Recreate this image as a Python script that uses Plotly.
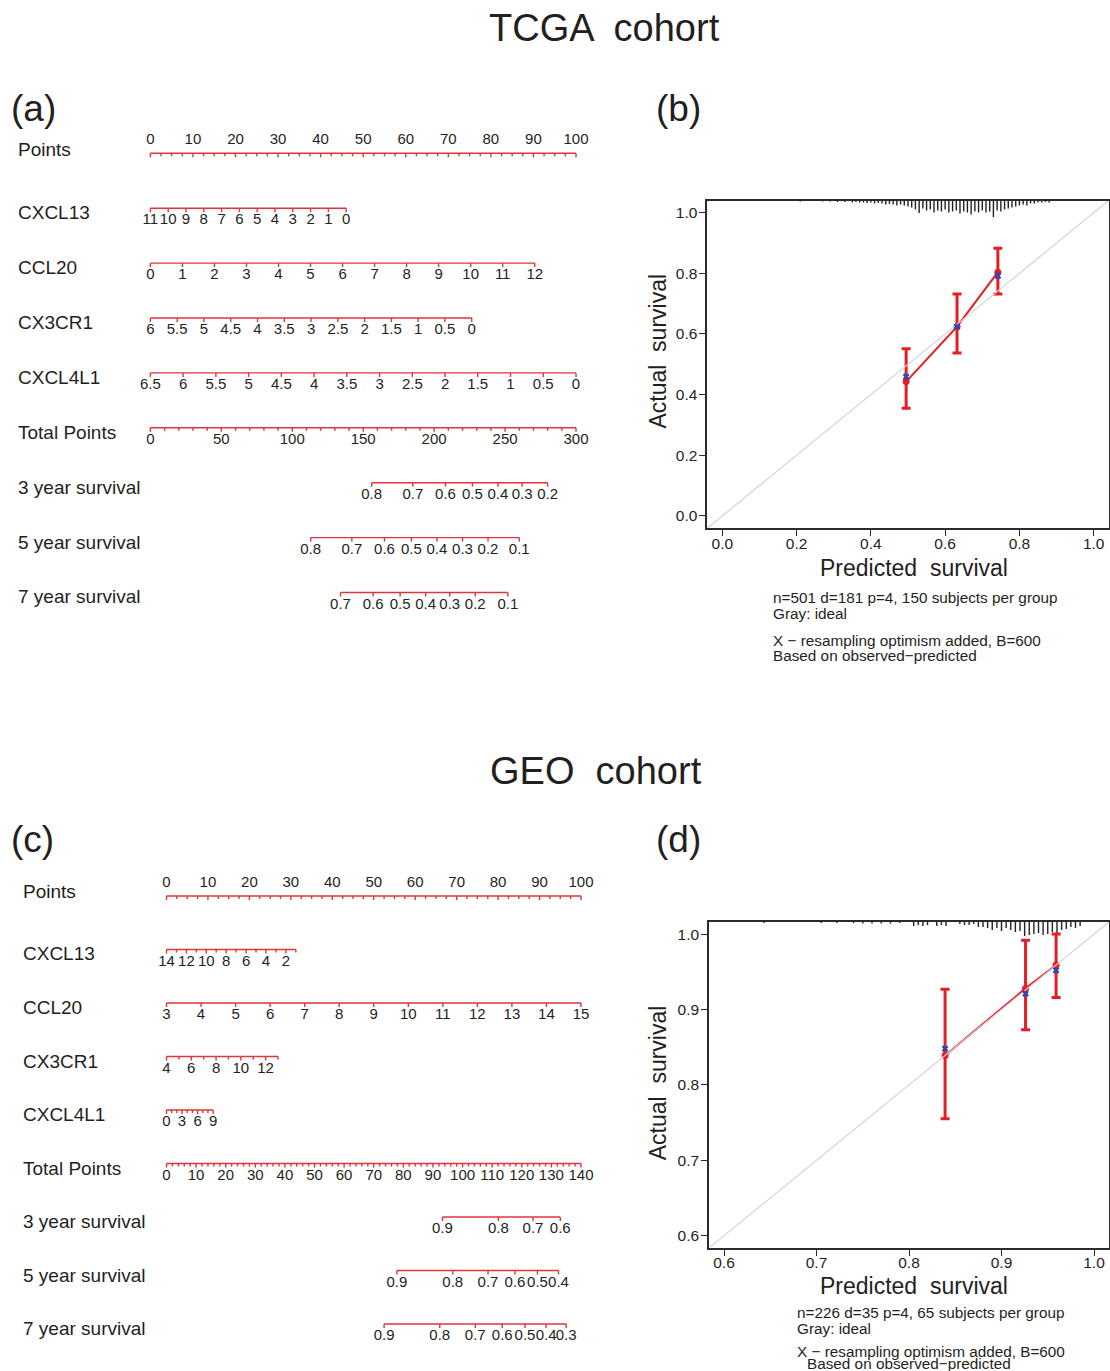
import plotly.graph_objects as go

# page (screenshot) is 1110 x 1371; body margin is removed in the page
PAGE_W, PAGE_H = 1110, 1371
OFF = 0
FW, FH = PAGE_W - OFF, PAGE_H - OFF
FONT = "Liberation Sans, Arial, Helvetica, sans-serif"
TXT = "#231f20"
NOMO_RED = "#e0353a"
CAL_RED = "#e31e24"
BLUE = "#2b46b5"
GRAY = "#d4d4d4"
FRAME = "#2b2b2b"

# ======================= DATA =======================
points_labels = [0, 10, 20, 30, 40, 50, 60, 70, 80, 90, 100]
points_minor_step = 2.5

# ---- (a) TCGA nomogram ----
tcga_cxcl13_values = [11, 10, 9, 8, 7, 6, 5, 4, 3, 2, 1, 0]
tcga_cxcl13_points = [0.0, 46.0]          # points at first / last value
tcga_ccl20_values = [0, 1, 2, 3, 4, 5, 6, 7, 8, 9, 10, 11, 12]
tcga_ccl20_points = [0.0, 90.3]
tcga_cx3cr1_values = [6, 5.5, 5, 4.5, 4, 3.5, 3, 2.5, 2, 1.5, 1, 0.5, 0]
tcga_cx3cr1_points = [0.0, 75.5]
tcga_cxcl4l1_values = [6.5, 6, 5.5, 5, 4.5, 4, 3.5, 3, 2.5, 2, 1.5, 1, 0.5, 0]
tcga_cxcl4l1_points = [0.0, 100.0]
tcga_total_labels = [0, 50, 100, 150, 200, 250, 300]
tcga_total_minor_step = 10
tcga_total_max = 300
tcga_surv3_labels = [0.8, 0.7, 0.6, 0.5, 0.4, 0.3, 0.2]
tcga_surv3_total = [156, 185, 208, 227, 245, 262, 280]
tcga_surv5_labels = [0.8, 0.7, 0.6, 0.5, 0.4, 0.3, 0.2, 0.1]
tcga_surv5_total = [113, 142, 165, 184, 202, 220, 238, 260]
tcga_surv7_labels = [0.7, 0.6, 0.5, 0.4, 0.3, 0.2, 0.1]
tcga_surv7_total = [134, 157, 176, 194, 211, 229, 252]

# ---- (c) GEO nomogram ----
geo_cxcl13_values = [14, 13, 12, 11, 10, 9, 8, 7, 6, 5, 4, 3, 2, 1]
geo_cxcl13_labels = [14, 12, 10, 8, 6, 4, 2]
geo_cxcl13_points = [0.0, 31.2]
geo_ccl20_values = [3, 4, 5, 6, 7, 8, 9, 10, 11, 12, 13, 14, 15]
geo_ccl20_labels = [3, 4, 5, 6, 7, 8, 9, 10, 11, 12, 13, 14, 15]
geo_ccl20_points = [0.0, 100.0]
geo_cx3cr1_values = [4, 5, 6, 7, 8, 9, 10, 11, 12, 13]
geo_cx3cr1_labels = [4, 6, 8, 10, 12]
geo_cx3cr1_points = [0.0, 26.9]
geo_cxcl4l1_values = [0, 1, 2, 3, 4, 5, 6, 7, 8, 9]
geo_cxcl4l1_labels = [0, 3, 6, 9]
geo_cxcl4l1_points = [0.0, 11.25]
geo_total_labels = [0, 10, 20, 30, 40, 50, 60, 70, 80, 90, 100, 110, 120, 130, 140]
geo_total_minor_step = 2
geo_total_max = 140
geo_surv3_labels = [0.9, 0.8, 0.7, 0.6]
geo_surv3_total = [93.2, 112.1, 123.8, 133.0]
geo_surv5_labels = [0.9, 0.8, 0.7, 0.6, 0.5, 0.4]
geo_surv5_total = [77.8, 96.7, 108.6, 117.7, 125.3, 132.4]
geo_surv7_labels = [0.9, 0.8, 0.7, 0.6, 0.5, 0.4, 0.3]
geo_surv7_total = [73.5, 92.3, 104.3, 113.4, 121.1, 128.2, 135.0]

# ---- (b) TCGA calibration ----
b_pred = [0.495, 0.632, 0.742]
b_obs = [0.443, 0.624, 0.804]
b_opt = [0.459, 0.624, 0.792]
b_lo = [0.355, 0.537, 0.732]
b_hi = [0.551, 0.732, 0.883]
b_rug_x = [0.21, 0.27, 0.29, 0.31, 0.33, 0.35,
           0.36, 0.37, 0.38, 0.39, 0.40, 0.41, 0.42, 0.43, 0.44, 0.45,
           0.46, 0.47, 0.48, 0.49, 0.50, 0.51, 0.52, 0.53, 0.54, 0.55,
           0.56, 0.57, 0.58, 0.59, 0.60, 0.61, 0.62, 0.63, 0.64, 0.65,
           0.66, 0.67, 0.68, 0.69, 0.70, 0.71, 0.72, 0.73, 0.74, 0.75,
           0.76, 0.77, 0.78, 0.79, 0.80, 0.81, 0.82, 0.83, 0.84, 0.85,
           0.86, 0.87, 0.88]
b_rug_h = [1, 1, 1, 1.5, 1.5, 2,
           1.5, 2, 2, 2.5, 2, 3, 2.5, 3, 4, 3.5,
           4, 5, 4, 5, 6, 7, 9, 12.5, 8, 10,
           9, 12, 10, 11, 9, 12, 11, 10, 13, 11,
           12, 14, 11, 12, 10, 12, 11, 16.5, 10, 11,
           9, 8, 7, 6, 5, 4, 5, 3, 3, 2,
           2, 1.5, 2]
b_ticks = [0.0, 0.2, 0.4, 0.6, 0.8, 1.0]
b_range = [-0.04, 1.04]

# ---- (d) GEO calibration ----
d_pred = [0.839, 0.926, 0.959]
d_obs = [0.839, 0.928, 0.959]
d_opt = [0.848, 0.921, 0.952]
d_lo = [0.755, 0.873, 0.916]
d_hi = [0.927, 0.992, 1.0]
d_rug_x = [0.643, 0.705, 0.722, 0.74, 0.75, 0.76, 0.77, 0.78, 0.79,
           0.805, 0.81, 0.815, 0.82, 0.83, 0.835, 0.84,
           0.855, 0.86, 0.865, 0.87,
           0.875, 0.88, 0.885, 0.89, 0.895, 0.90, 0.905, 0.91, 0.915, 0.92,
           0.925, 0.93, 0.935, 0.94, 0.945, 0.95, 0.955, 0.96, 0.965, 0.97,
           0.975, 0.98, 0.985]
d_rug_h = [1, 1, 1, 1, 1.5, 1.5, 1.5, 1.5, 1,
           4, 3, 4, 3, 4, 3, 4,
           2, 3, 3, 2,
           5, 5, 6, 8, 6, 9, 6, 8, 10, 9,
           14, 13, 12, 11, 13, 12, 10, 11, 8, 7,
           5, 6, 4]
d_ticks = [0.6, 0.7, 0.8, 0.9, 1.0]
d_range = [0.584, 1.016]

# ======================= HELPERS =======================
MAJ, MIN = 4.0, 3.0


def fmt(v):
    return f"{v:g}"


def linear_points(values, pts_pair):
    v0, v1 = values[0], values[-1]
    p0, p1 = pts_pair
    return [p0 + (v - v0) * (p1 - p0) / (v1 - v0) for v in values]


def px_x(p):
    return (p - OFF) / FW


def px_y(p):
    return 1 - (p - OFF) / FH


def steps(lo, hi, step):
    n = int(round((hi - lo) / step))
    return [lo + k * step for k in range(n + 1)]


def var_row(name, values, pts, labels=None):
    pos = linear_points(values, pts)
    labels = values if labels is None else labels
    lens = [MAJ if v in labels else MIN for v in values]
    lab_pos = [p for v, p in zip(values, pos) if v in labels]
    lab_txt = [fmt(v) for v in values if v in labels]
    return dict(name=name, ticks=pos, lens=lens, lab_pos=lab_pos, lab_txt=lab_txt, above=False)


def points_row():
    minor = [v for v in steps(0, 100, points_minor_step) if v not in points_labels]
    ticks = list(points_labels) + minor
    lens = [MAJ] * len(points_labels) + [MIN] * len(minor)
    return dict(name="Points", ticks=ticks, lens=lens, lab_pos=list(points_labels),
                lab_txt=[fmt(v) for v in points_labels], above=True)


def total_row(labels, minor_step, tmax):
    minor = [v for v in steps(0, tmax, minor_step) if v not in labels]
    ticks = [v / tmax * 100 for v in labels] + [v / tmax * 100 for v in minor]
    lens = [MAJ] * len(labels) + [MIN] * len(minor)
    return dict(name="Total Points", ticks=ticks, lens=lens,
                lab_pos=[v / tmax * 100 for v in labels], lab_txt=[fmt(v) for v in labels], above=False)


def surv_row(name, labels, totals, tmax):
    pos = [t / tmax * 100 for t in totals]
    return dict(name=name, ticks=pos, lens=[MAJ] * len(pos), lab_pos=pos,
                lab_txt=[fmt(v) for v in labels], above=False)


fig = go.Figure()
annotations = []


def add_nomogram(rows, xa, ya, pxrow, name_x):
    lx, ly, tx, ty, tt = [], [], [], [], []
    for i, row in enumerate(rows):
        pos = row["ticks"]
        lx += [min(pos), max(pos), None]
        ly += [i, i, None]
        for p, L in zip(pos, row["lens"]):
            lx += [p, p, None]
            ly += [i, i + L / pxrow, None]
        off = -13.0 if row["above"] else 12.5
        for p, s in zip(row["lab_pos"], row["lab_txt"]):
            tx.append(p)
            ty.append(i + off / pxrow)
            tt.append(s)
        noff = -4.0 if row["above"] else 4.5
        annotations.append(dict(text=row["name"], x=name_x, y=i + noff / pxrow, xref=xa, yref=ya,
                                xanchor="left", yanchor="middle", showarrow=False,
                                font=dict(family=FONT, size=19, color=TXT)))
    fig.add_trace(go.Scatter(x=lx, y=ly, mode="lines", line=dict(color=NOMO_RED, width=1.4),
                             xaxis=xa, yaxis=ya, hoverinfo="skip", showlegend=False))
    fig.add_trace(go.Scatter(x=tx, y=ty, text=tt, mode="text", textposition="middle center",
                             textfont=dict(family=FONT, size=15, color=TXT), cliponaxis=False,
                             xaxis=xa, yaxis=ya, hoverinfo="skip", showlegend=False))


def add_calibration(pred, obs, opt, lo, hi, rug_x, rug_h, rng, px_per_unit_y, xa, ya):
    rx, ry = [], []
    top = rng[1]
    for x, h in zip(rug_x, rug_h):
        rx += [x, x, None]
        ry += [top, top - h / px_per_unit_y, None]
    fig.add_trace(go.Scatter(x=rx, y=ry, mode="lines", line=dict(color="#222222", width=1.4),
                             xaxis=xa, yaxis=ya, hoverinfo="skip", showlegend=False))
    fig.add_trace(go.Scatter(
        x=pred, y=obs, mode="lines+markers",
        line=dict(color=CAL_RED, width=2), marker=dict(color=CAL_RED, size=7),
        error_y=dict(type="data", symmetric=False,
                     array=[h - o for h, o in zip(hi, obs)],
                     arrayminus=[o - l for o, l in zip(obs, lo)],
                     color=CAL_RED, thickness=3, width=4.5),
        xaxis=xa, yaxis=ya, hoverinfo="skip", showlegend=False))
    fig.add_trace(go.Scatter(x=[rng[0], rng[1]], y=[rng[0], rng[1]], mode="lines",
                             line=dict(color=GRAY, width=1.2),
                             xaxis=xa, yaxis=ya, hoverinfo="skip", showlegend=False))
    fig.add_trace(go.Scatter(x=pred, y=opt, mode="markers",
                             marker=dict(symbol="x", size=6, color=BLUE),
                             xaxis=xa, yaxis=ya, hoverinfo="skip", showlegend=False))


# ---- nomogram (a) ----
a_rows = [
    points_row(),
    var_row("CXCL13", tcga_cxcl13_values, tcga_cxcl13_points),
    var_row("CCL20", tcga_ccl20_values, tcga_ccl20_points),
    var_row("CX3CR1", tcga_cx3cr1_values, tcga_cx3cr1_points),
    var_row("CXCL4L1", tcga_cxcl4l1_values, tcga_cxcl4l1_points),
    total_row(tcga_total_labels, tcga_total_minor_step, tcga_total_max),
    surv_row("3 year survival", tcga_surv3_labels, tcga_surv3_total, tcga_total_max),
    surv_row("5 year survival", tcga_surv5_labels, tcga_surv5_total, tcga_total_max),
    surv_row("7 year survival", tcga_surv7_labels, tcga_surv7_total, tcga_total_max),
]
A_X0, A_PXPT, A_ROW0, A_PXROW = 150.4, 4.256, 153.3, 54.9
A_DOMX, A_DOMY = (OFF, 600), (112, 640)
add_nomogram(a_rows, "x", "y", A_PXROW, (16 - A_X0) / A_PXPT)

# ---- nomogram (c) ----
c_rows = [
    points_row(),
    var_row("CXCL13", geo_cxcl13_values, geo_cxcl13_points, geo_cxcl13_labels),
    var_row("CCL20", geo_ccl20_values, geo_ccl20_points, geo_ccl20_labels),
    var_row("CX3CR1", geo_cx3cr1_values, geo_cx3cr1_points, geo_cx3cr1_labels),
    var_row("CXCL4L1", geo_cxcl4l1_values, geo_cxcl4l1_points, geo_cxcl4l1_labels),
    total_row(geo_total_labels, geo_total_minor_step, geo_total_max),
    surv_row("3 year survival", geo_surv3_labels, geo_surv3_total, geo_total_max),
    surv_row("5 year survival", geo_surv5_labels, geo_surv5_total, geo_total_max),
    surv_row("7 year survival", geo_surv7_labels, geo_surv7_total, geo_total_max),
]
C_X0, C_PXPT, C_ROW0, C_PXROW = 166.5, 4.145, 896.0, 53.5
C_DOMX, C_DOMY = (OFF, 610), (845, 1366)
add_nomogram(c_rows, "x3", "y3", C_PXROW, (21 - C_X0) / C_PXPT)

# ---- calibration (b) / (d) ----
B_PXX, B_PXY = 371.4, 303.2
B_X0PX, B_Y0PX = 722.3, 515.9      # pixel of value 0
D_PXX, D_PXY = 925.0, 754.0
D_X06PX, D_Y06PX = 724.0, 1235.7   # pixel of value 0.6
add_calibration(b_pred, b_obs, b_opt, b_lo, b_hi, b_rug_x, b_rug_h, b_range, B_PXY, "x2", "y2")
add_calibration(d_pred, d_obs, d_opt, d_lo, d_hi, d_rug_x, d_rug_h, d_range, D_PXY, "x4", "y4")

b_dom_x = (B_X0PX + b_range[0] * B_PXX, B_X0PX + b_range[1] * B_PXX)
b_dom_y = (B_Y0PX - b_range[1] * B_PXY, B_Y0PX - b_range[0] * B_PXY)
d_dom_x = (D_X06PX + (d_range[0] - 0.6) * D_PXX, D_X06PX + (d_range[1] - 0.6) * D_PXX)
d_dom_y = (D_Y06PX - (d_range[1] - 0.6) * D_PXY, D_Y06PX - (d_range[0] - 0.6) * D_PXY)


def hidden_axes(domx, domy, x0, pxpt, row0, pxrow, anchor_x, anchor_y):
    xa = dict(domain=[px_x(domx[0]), px_x(domx[1])],
              range=[(domx[0] - x0) / pxpt, (domx[1] - x0) / pxpt],
              visible=False, fixedrange=True, anchor=anchor_y)
    ya = dict(domain=[px_y(domy[1]), px_y(domy[0])],
              range=[(domy[1] - row0) / pxrow, (domy[0] - row0) / pxrow],
              visible=False, fixedrange=True, anchor=anchor_x)
    return xa, ya


def cal_axis(dom, rng, ticks, anchor, is_y):
    if is_y:
        d = [px_y(dom[1]), px_y(dom[0])]
    else:
        d = [px_x(dom[0]), px_x(dom[1])]
    return dict(domain=d, range=rng, tickvals=ticks, ticktext=[f"{t:.1f}" for t in ticks],
                ticks="outside", ticklen=6, tickwidth=1.3, tickcolor=FRAME,
                ticklabelstandoff=(-1 if is_y else -6),
                showline=True, linecolor=FRAME, linewidth=2, mirror=True,
                showgrid=False, zeroline=False, anchor=anchor, fixedrange=True,
                tickfont=dict(family=FONT, size=15.5, color=TXT))


xa1, ya1 = hidden_axes(A_DOMX, A_DOMY, A_X0, A_PXPT, A_ROW0, A_PXROW, "x", "y")
xa3, ya3 = hidden_axes(C_DOMX, C_DOMY, C_X0, C_PXPT, C_ROW0, C_PXROW, "x3", "y3")


# ---- text annotations ----
def ann(text, x, y, size, xanchor="center", angle=0):
    annotations.append(dict(text=text, x=px_x(x), y=px_y(y), xref="paper", yref="paper",
                            xanchor=xanchor, yanchor="middle", showarrow=False, textangle=angle,
                            font=dict(family=FONT, size=size, color=TXT)))


ann("TCGA  cohort", 604.7, 27.8, 38)
ann("GEO  cohort", 595.5, 771, 38)
ann("(a)", 9, 108, 37, "left")
ann("(b)", 654, 108, 37, "left")
ann("(c)", 9, 839, 37, "left")
ann("(d)", 654, 839, 37, "left")

ann("Predicted  survival", 914, 568.3, 23)
ann("Actual  survival", 658, 351.6, 23, angle=-90)
ann("Predicted  survival", 914, 1286, 23)
ann("Actual  survival", 658, 1083.3, 23, angle=-90)

ann("n=501 d=181 p=4, 150 subjects per group", 771, 597.7, 15.3, "left")
ann("Gray: ideal", 771, 613.3, 15.3, "left")
ann("X \u2212 resampling optimism added, B=600", 771, 640, 15.3, "left")
ann("Based on observed\u2212predicted", 771, 655.7, 15.3, "left")

ann("n=226 d=35 p=4, 65 subjects per group", 795, 1312.3, 15.3, "left")
ann("Gray: ideal", 795, 1328.3, 15.3, "left")
ann("X \u2212 resampling optimism added, B=600", 795, 1351.7, 15.3, "left")
ann("Based on observed\u2212predicted", 805, 1363.3, 15.3, "left")

fig.update_layout(
    width=FW, height=FH,
    margin=dict(l=0, r=0, t=0, b=0),
    paper_bgcolor="white", plot_bgcolor="white",
    showlegend=False,
    font=dict(family=FONT, color=TXT),
    xaxis=xa1, yaxis=ya1,
    xaxis3=xa3, yaxis3=ya3,
    xaxis2=cal_axis(b_dom_x, b_range, b_ticks, "y2", False),
    yaxis2=cal_axis(b_dom_y, b_range, b_ticks, "x2", True),
    xaxis4=cal_axis(d_dom_x, d_range, d_ticks, "y4", False),
    yaxis4=cal_axis(d_dom_y, d_range, d_ticks, "x4", True),
    annotations=annotations,
)

# remove the default 8px page margin so the figure fills the 1110x1371 window exactly
fig.write_html("out.html",
               config={"displayModeBar": False},
               post_script="document.body.style.margin='0';document.body.style.overflow='hidden';")
